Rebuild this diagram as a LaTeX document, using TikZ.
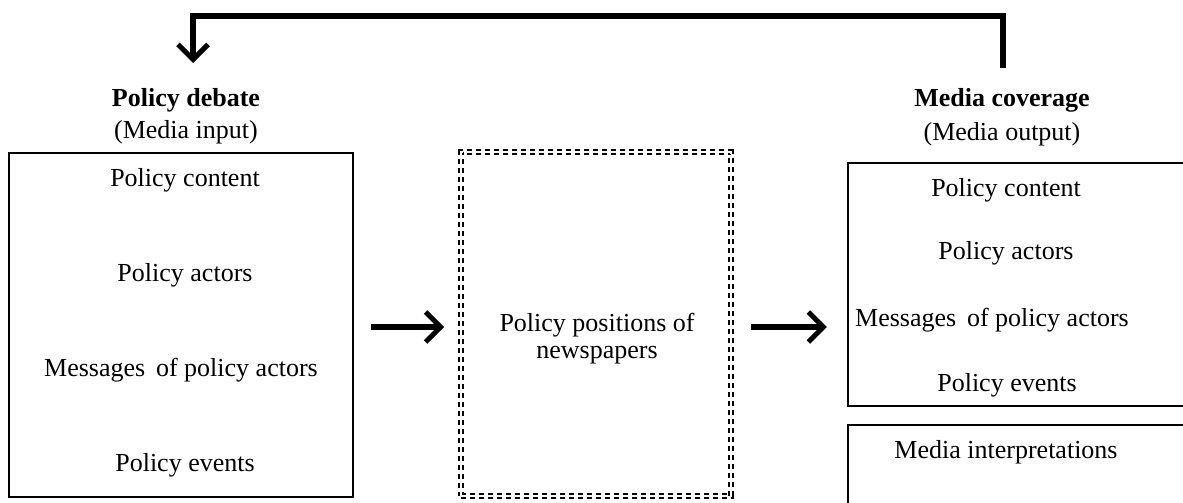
\documentclass[tikz,border=0pt]{standalone}
\usepackage{fontspec}
\setmainfont{Liberation Serif}
\usetikzlibrary{arrows.meta}
\begin{document}
\begin{tikzpicture}[x=1pt,y=-1pt,
  txt/.style={font=\fontsize{26}{30}\selectfont, inner sep=0pt},
  ttl/.style={font=\fontsize{26}{30}\selectfont\bfseries, inner sep=0pt},
  box/.style={draw, line width=2.2pt, inner sep=0pt},
  newsbox/.style={draw, line width=1.6pt, double, double distance=2.2pt, dash pattern=on 5pt off 4pt, inner sep=0pt},
  flow/.style={line width=5.5pt, line join=miter, -{Straight Barb[length=15pt,width=30pt,line width=5pt]}}
]
\useasboundingbox (0,0) rectangle (1183,503);
\clip (0,0) rectangle (1183,503);

% titles
\node[ttl] (pdtitle) at (186,100) {Policy debate};
\node[txt] (pdsub) at (186,132) {(Media input)};
\node[ttl] (mctitle) at (1002,100) {Media coverage};
\node[txt] (mcsub) at (1002,134) {(Media output)};

% boxes
\node[box, minimum width=344pt, minimum height=344pt] (inbox) at (181,325) {};
\node[newsbox, minimum width=270pt, minimum height=344pt] (news) at (596,324) {};
\node[box, minimum width=372pt, minimum height=243pt] (outbox) at (1034,284.5) {};
\node[box, minimum width=372pt, minimum height=135pt] (interp) at (1034,492.5) {};

% left box texts
\node[txt] (in1) at (185,180) {Policy content};
\node[txt] (in2) at (185,275) {Policy actors};
\node[txt] (in3) at (181,370) {Messages\, of policy actors};
\node[txt] (in4) at (185,465) {Policy events};

% middle texts
\node[txt] (np1) at (597,325) {Policy positions of};
\node[txt] (np2) at (597,355) {newspapers};

% right box texts
\node[txt] (out1) at (1006,190) {Policy content};
\node[txt] (out2) at (1006,253) {Policy actors};
\node[txt] (out3) at (992,320) {Messages\, of policy actors};
\node[txt] (out4) at (1007,385) {Policy events};
\node[txt] (mi) at (1006,452) {Media interpretations};

% arrows
\draw[flow, shorten <=17pt, shorten >=16pt] ([yshift=-2pt]inbox.east) -- ([yshift=-2pt]inbox.east -| news.west);
\draw[flow, shorten <=19pt, shorten >=20pt] ([yshift=-3pt]news.east) -- ([yshift=-3pt]news.east -| outbox.west);

% feedback
\coordinate (fbstart) at (1003,68);
\coordinate (fbright) at (1003,16);
\coordinate (fbleft) at (193,16);
\coordinate (fbend) at (193,63);
\draw[flow] (fbstart) -- (fbright) -- (fbleft) -- (fbend);
\end{tikzpicture}
\end{document}
